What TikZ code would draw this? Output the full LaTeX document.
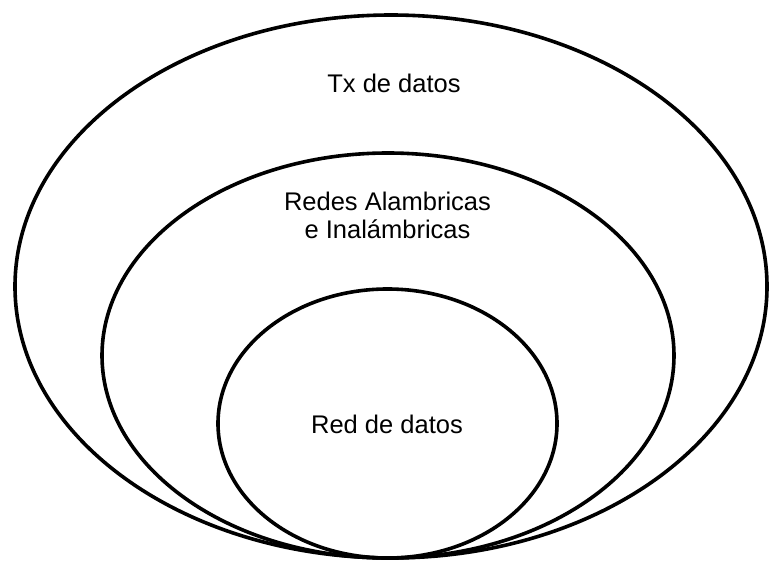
\documentclass[tikz,border=0pt]{standalone}
\usepackage{fontspec}
\setmainfont{Liberation Sans}
\begin{document}
\begin{tikzpicture}[x=1pt,y=-1pt,
  ring/.style={draw=black,line width=3.6pt},
  lbl/.style={inner sep=0pt,font=\fontsize{25.5}{28}\selectfont,text=black,align=center}]
\useasboundingbox[fill=white] (0,0) rectangle (769,562);
\draw[ring] (391,286.5) ellipse [x radius=376pt, y radius=271.5pt];
\draw[ring] (388,355.5) ellipse [x radius=286pt, y radius=202.5pt];
\draw[ring] (387.5,423.5) ellipse [x radius=169.5pt, y radius=134.5pt];
\node[lbl,anchor=base] (tx) at (394,92) {Tx de datos};
\node[lbl] (redes) at (387.5,215) {Redes Alambricas\\e Inalámbricas};
\node[lbl,anchor=base] (red) at (387,433) {Red de datos};
\end{tikzpicture}
\end{document}
